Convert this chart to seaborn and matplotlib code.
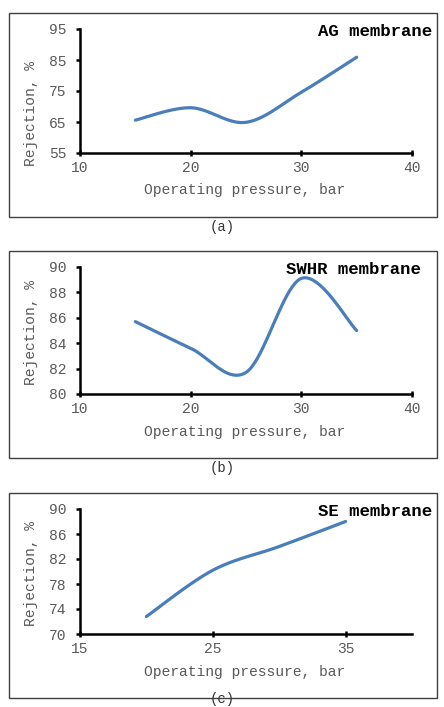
import numpy as np
import matplotlib.pyplot as plt
import seaborn as sns
from matplotlib.patches import Rectangle

# data (points joined by an Excel-style smoothed line)
ag_pressure = [15, 20, 25, 30, 35]
ag_rejection = [65.6, 69.6, 64.9, 74.6, 85.9]
swhr_pressure = [15, 20, 25, 30, 35]
swhr_rejection = [85.7, 83.6, 81.7, 89.1, 85.0]
se_pressure = [20, 25, 30, 35]
se_rejection = [72.8, 80.2, 84.0, 88.0]

LINE = '#4a7ebb'
GREY = '#595959'
MONO = ['Liberation Mono', 'DejaVu Sans Mono']


def smooth(x, y, n=40):
    # Catmull-Rom style bezier, similar to Excel's "smoothed line"
    p = np.column_stack([x, y]).astype(float)
    pts = np.vstack([p[0], p, p[-1]])
    out = []
    t = np.linspace(0, 1, n)[:, None]
    for i in range(1, len(pts) - 2):
        p0, p1, p2, p3 = pts[i - 1], pts[i], pts[i + 1], pts[i + 2]
        c1 = p1 + (p2 - p0) / 6
        c2 = p2 - (p3 - p1) / 6
        seg = ((1 - t) ** 3) * p1 + 3 * ((1 - t) ** 2) * t * c1 + 3 * (1 - t) * t ** 2 * c2 + t ** 3 * p2
        out.append(seg if i == 1 else seg[1:])
    out = np.vstack(out)
    return out[:, 0], out[:, 1]


sns.set_theme(style="ticks")
plt.rcParams['font.family'] = MONO

W, H = 444, 707
fig = plt.figure(figsize=(W / 100, H / 100), dpi=100)

panels = [
    # x, y, xlim, xticks, ylim, yticks, title, title pos, frame (top,bottom), axes (top,bottom), ylabel_y, xlabel_y, caption
    (ag_pressure, ag_rejection, (10, 40), [10, 20, 30, 40], (55, 95), [55, 65, 75, 85, 95],
     'AG membrane', 432, 32, (13, 217), (29, 153), 113, 190, '(a)', 227, 'center'),
    (swhr_pressure, swhr_rejection, (10, 40), [10, 20, 30, 40], (80, 90), [80, 82, 84, 86, 88, 90],
     'SWHR membrane', 421, 270, (251, 458), (267, 394), 333, 432, '(b)', 468, 'center'),
    (se_pressure, se_rejection, (15, 40), [15, 25, 35], (70, 90), [70, 74, 78, 82, 86, 90],
     'SE membrane', 432, 511, (493, 698), (509, 634), 574, 672, '(c)', 706, 'bottom'),
]

for (x, y, xlim, xt, ylim, yt, title, tx, ty, frame, axy, yly, xly, cap, capy, capva) in panels:
    fig.add_artist(Rectangle((9 / W, 1 - frame[1] / H), 428 / W, (frame[1] - frame[0]) / H,
                             transform=fig.transFigure, fill=False, edgecolor='#404040', linewidth=1.0))
    ax = fig.add_axes([80 / W, 1 - axy[1] / H, 332 / W, (axy[1] - axy[0]) / H])
    xs, ys = smooth(x, y)
    sns.lineplot(x=xs, y=ys, sort=False, color=LINE, linewidth=2.3, ax=ax)
    ax.set_xlim(*xlim)
    ax.set_ylim(*ylim)
    ax.set_xticks(xt)
    ax.set_yticks(yt)
    ax.set(xlabel='', ylabel='')
    sns.despine(ax=ax)
    ax.patch.set_alpha(0)
    for s in ('left', 'bottom'):
        ax.spines[s].set_linewidth(1.8)
        ax.spines[s].set_color('black')
    ax.tick_params(axis='both', width=1.8, color='black', labelsize=10.5, labelcolor=GREY)
    ax.tick_params(axis='x', direction='inout', length=5, pad=3.5)
    ax.tick_params(axis='y', direction='out', length=3, pad=7)
    for lab in ax.get_xticklabels() + ax.get_yticklabels():
        lab.set_family(MONO)
    fig.text(tx / W, 1 - ty / H, title, ha='right', va='center', fontsize=12.5,
             fontweight='bold', color='black', family=MONO)
    fig.text(31 / W, 1 - yly / H, 'Rejection, %', rotation=90, ha='center', va='center',
             fontsize=10.5, color=GREY, family=MONO)
    fig.text(245 / W, 1 - xly / H, 'Operating pressure, bar', ha='center', va='center',
             fontsize=10.5, color=GREY, family=MONO)
    fig.text(222 / W, 1 - capy / H, cap, ha='center', va=capva, fontsize=10,
             color='#333333', family=MONO)

fig.savefig('out.png', dpi=100)
